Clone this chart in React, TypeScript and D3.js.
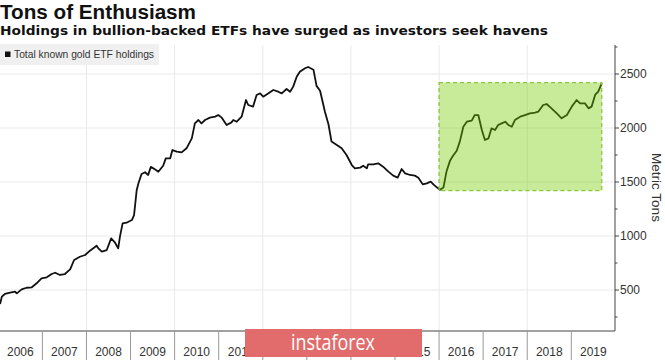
import React from 'react';
import * as d3 from 'd3';

const W = 665;
const H = 360;

// Decimal year of each observation
const dates = [
  2006.04, 2006.08, 2006.15, 2006.27, 2006.38, 2006.42, 2006.53, 2006.64, 2006.76, 2006.87, 2006.98,
  2007.10, 2007.21, 2007.29, 2007.40, 2007.51, 2007.63, 2007.72, 2007.85, 2007.97,
  2008.08, 2008.23, 2008.27, 2008.35, 2008.46, 2008.56, 2008.65, 2008.72, 2008.76, 2008.82, 2008.91,
  2009.03, 2009.08, 2009.14, 2009.18, 2009.25, 2009.33, 2009.40, 2009.46, 2009.56, 2009.63, 2009.74, 2009.80, 2009.90, 2009.95,
  2010.05, 2010.16, 2010.27, 2010.39, 2010.46, 2010.54, 2010.61, 2010.69, 2010.80, 2010.92, 2010.99,
  2011.07, 2011.18, 2011.29, 2011.33, 2011.41, 2011.52, 2011.62, 2011.67, 2011.78, 2011.86, 2011.94,
  2012.01, 2012.13, 2012.24, 2012.35, 2012.43, 2012.54, 2012.62, 2012.69, 2012.77, 2012.84, 2012.96,
  2013.03, 2013.15, 2013.22, 2013.30, 2013.41, 2013.49, 2013.56, 2013.68, 2013.79, 2013.90,
  2014.02, 2014.09, 2014.21, 2014.28, 2014.36, 2014.39, 2014.51, 2014.62, 2014.73, 2014.85, 2014.96,
  2015.06, 2015.15, 2015.23, 2015.34, 2015.45, 2015.53, 2015.63, 2015.72, 2015.81, 2015.87, 2015.95,
  2016.02, 2016.10, 2016.17, 2016.25, 2016.32, 2016.40, 2016.47, 2016.55, 2016.63, 2016.74, 2016.81, 2016.89, 2016.97,
  2017.04, 2017.12, 2017.19, 2017.27, 2017.34, 2017.42, 2017.50, 2017.57, 2017.65, 2017.72, 2017.84, 2017.95,
  2018.06, 2018.18, 2018.25, 2018.36, 2018.44, 2018.55, 2018.67, 2018.78, 2018.90,
  2019.01, 2019.12, 2019.20, 2019.31, 2019.39, 2019.46, 2019.54, 2019.61, 2019.69,
];

// Total known gold ETF holdings (metric tons)
const holdings = [
  370, 438, 463, 475, 484, 469, 506, 521, 525, 562, 608,
  617, 648, 660, 639, 648, 691, 778, 808, 824,
  864, 910, 886, 855, 870, 978, 938, 886, 994, 1117, 1123,
  1148, 1194, 1426, 1488, 1574, 1590, 1565, 1640, 1615, 1595, 1650, 1719, 1719, 1796,
  1781, 1774, 1812, 1904, 2043, 2074, 2043, 2074, 2096, 2105, 2120,
  2096, 2028, 2052, 2074, 2058, 2105, 2259, 2213, 2198, 2306, 2321,
  2290, 2321, 2352, 2336, 2321, 2361, 2336, 2383, 2475, 2521, 2553,
  2565, 2540, 2390, 2345, 2150, 2035, 1874, 1843, 1812, 1750,
  1657, 1626, 1633, 1651, 1626, 1664, 1664, 1673, 1642, 1596, 1559,
  1540, 1620, 1580, 1565, 1559, 1540, 1478, 1488, 1503, 1478, 1450,
  1428, 1450, 1600, 1700, 1745, 1790, 1874, 2012, 2058, 2068, 2120, 2120, 1981,
  1889, 1904, 1997, 1981, 2028, 2043, 2058, 2028, 2012, 2074, 2105, 2120,
  2136, 2142, 2151, 2213, 2222, 2182, 2136, 2090, 2120,
  2198, 2259, 2228, 2228, 2182, 2198, 2306, 2336, 2413,
];

const yearLabels = ['2006', '2007', '2008', '2009', '2010', '2011', '2012', '2013', '2014', '2015', '2016', '2017', '2018', '2019'];
const yTicks = [500, 1000, 1500, 2000, 2500];
const yMinorTicks = [250, 750, 1250, 1750, 2250, 2750];
const gridYears = [2008, 2010, 2012, 2014, 2016, 2018];
const highlightYears = [2016, 2019.69];
const highlightTons = [1420, 2420];

const title = 'Tons of Enthusiasm';
const subtitle = 'Holdings in bullion-backed ETFs have surged as investors seek havens';
const legendLabel = 'Total known gold ETF holdings';
const axisTitle = 'Metric Tons';
const watermark = 'instaforex';

export default function App() {
  const axisX = 615;
  const plotTop = 45;
  const plotBottom = 331;

  const x = d3.scaleLinear().domain([2006, 2020]).range([-1.7, 615.4]);
  const y = d3.scaleLinear().domain([500, 2500]).range([290, 74]);

  const pts: [number, number][] = dates.map((d, i) => [d, holdings[i]]);
  const line = d3
    .line<[number, number]>()
    .x((d) => x(d[0]))
    .y((d) => y(d[1]));

  const yearStarts = yearLabels.map((l) => +l);

  const font = "'Liberation Sans', Arial, sans-serif";

  return (
    <svg
      width={W}
      height={H}
      style={{ position: 'absolute', left: 0, top: 0, background: '#fff' }}
      fontFamily={font}
    >
      <rect x={0} y={0} width={W} height={H} fill="#fff" />
      {/* titles */}
      <text x={0} y={18.5} fontSize={20} fontWeight="bold" fill="#111" textLength={196} lengthAdjust="spacingAndGlyphs">
        {title}
      </text>
      <text
        x={0}
        y={35}
        fontSize={12.5}
        fontWeight="bold"
        fill="#111"
        fontFamily="'DejaVu Sans', sans-serif"
        textLength={548}
        lengthAdjust="spacingAndGlyphs"
      >
        {subtitle}
      </text>

      {/* gridlines */}
      {yTicks.map((t) => (
        <line key={'gy' + t} x1={0} x2={axisX} y1={y(t)} y2={y(t)} stroke="#e9e9e9" strokeWidth={1} />
      ))}
      {gridYears.map((g) => (
        <line key={'gx' + g} x1={x(g)} x2={x(g)} y1={plotTop} y2={plotBottom} stroke="#e9e9e9" strokeWidth={1} />
      ))}

      {/* legend */}
      <rect x={0} y={44} width={159} height={21} fill="#f0f0f0" />
      <rect x={5} y={51.5} width={5.5} height={5.5} fill="#111" />
      <text x={14} y={58} fontSize={10.5} fill="#333" textLength={140} lengthAdjust="spacingAndGlyphs">
        {legendLabel}
      </text>

      {/* data line */}
      <path d={line(pts) || ''} fill="none" stroke="#111" strokeWidth={1.8} strokeLinejoin="round" />

      {/* highlight box */}
      <rect
        x={x(highlightYears[0])}
        y={y(highlightTons[1])}
        width={x(highlightYears[1]) - x(highlightYears[0])}
        height={y(highlightTons[0]) - y(highlightTons[1])}
        fill="rgb(118,205,0)"
        fillOpacity={0.4}
        stroke="#8cc63f"
        strokeWidth={1.3}
        strokeDasharray="4 3"
      />

      {/* right axis */}
      <line x1={axisX} x2={axisX} y1={plotTop} y2={plotBottom} stroke="#444" strokeWidth={1} />
      {yTicks.map((t) => (
        <g key={'yt' + t}>
          <line x1={axisX} x2={axisX + 4} y1={y(t)} y2={y(t)} stroke="#444" />
          <text x={620} y={y(t)} dy="0.35em" fontSize={12} fill="#333">
            {t}
          </text>
        </g>
      ))}
      {yMinorTicks.map((t) => (
        <line key={'ym' + t} x1={axisX} x2={axisX + 2.5} y1={y(t)} y2={y(t)} stroke="#444" />
      ))}
      <text
        transform={`translate(652,187.5) rotate(90)`}
        textAnchor="middle"
        fontSize={13.5}
        fill="#333"
      >
        {axisTitle}
      </text>

      {/* bottom axis */}
      <line x1={0} x2={axisX} y1={plotBottom} y2={plotBottom} stroke="#444" strokeWidth={1} />
      {yearStarts.slice(1).map((yr) => (
        <line key={'xt' + yr} x1={x(yr)} x2={x(yr)} y1={plotBottom} y2={H} stroke="#999" strokeWidth={1} />
      ))}
      {yearStarts.map((yr, i) => (
        <text key={'xl' + yr} x={x(yr + 0.5)} y={356} textAnchor="middle" fontSize={12} fill="#333">
          {yearLabels[i]}
        </text>
      ))}

      {/* watermark */}
      <rect x={245} y={329} width={177} height={28} fill="#e26b6b" />
      <text
        x={333}
        y={350}
        textAnchor="middle"
        fontSize={21}
        fill="#fff"
        fontFamily="'Open Sans', sans-serif"
        textLength={84}
        lengthAdjust="spacingAndGlyphs"
      >
        {watermark}
      </text>
    </svg>
  );
}
